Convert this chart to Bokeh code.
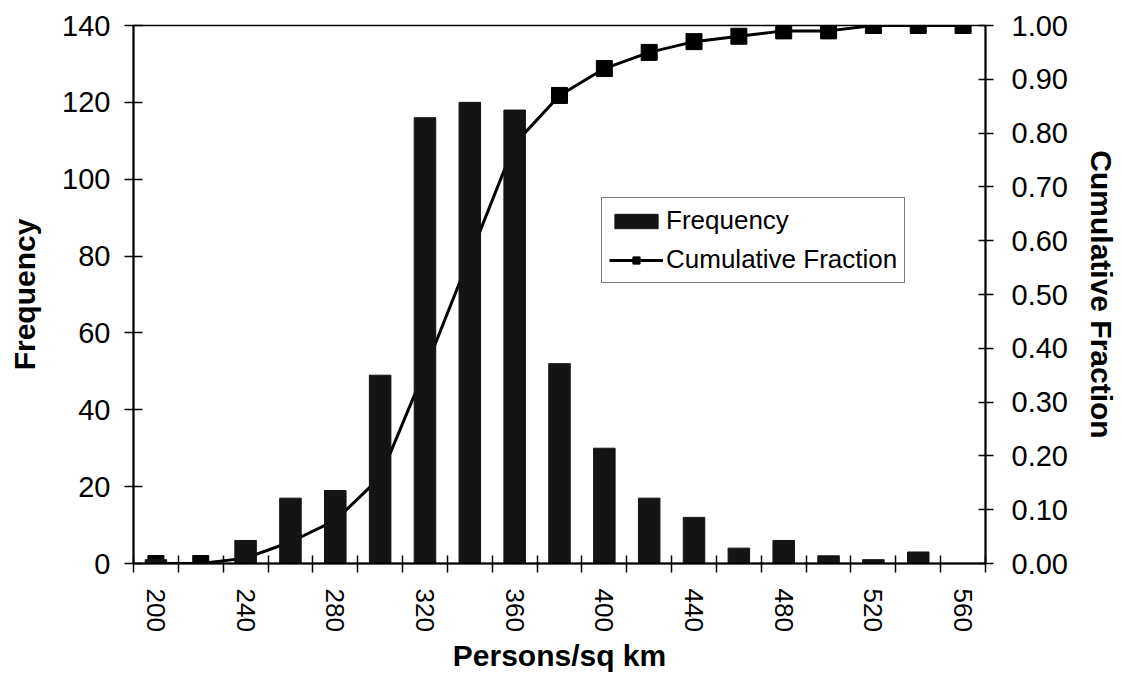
import math
from bokeh.plotting import figure
from bokeh.models import (Range1d, LinearAxis, FixedTicker, NumeralTickFormatter,
                          Legend, LegendItem, ColumnDataSource)
from bokeh.embed import file_html
from bokeh.resources import INLINE

# ---- data ----
categories = [200, 220, 240, 260, 280, 300, 320, 340, 360, 380,
              400, 420, 440, 460, 480, 500, 520, 540, 560]
frequency = [1, 0, 6, 17, 19, 49, 116, 120, 118, 52,
             30, 17, 12, 4, 6, 2, 1, 3, 0]
cumulative = [0.00, 0.00, 0.01, 0.04, 0.08, 0.16, 0.36, 0.57, 0.78, 0.87,
              0.92, 0.95, 0.97, 0.98, 0.99, 0.99, 1.00, 1.00, 1.00]
x_tick_labels = [200, 240, 280, 320, 360, 400, 440, 480, 520, 560]
freq_ticks = [0, 20, 40, 60, 80, 100, 120, 140]
cum_ticks = [0.0, 0.1, 0.2, 0.3, 0.4, 0.5, 0.6, 0.7, 0.8, 0.9, 1.0]

FONT = "Liberation Sans"
step = categories[1] - categories[0]
boundaries = [c - step / 2 for c in categories] + [categories[-1] + step / 2]

src = ColumnDataSource(dict(x=categories, freq=frequency, cum=cumulative))

p = figure(width=1120, height=675, output_backend="svg", toolbar_location=None,
           x_range=Range1d(boundaries[0], boundaries[-1]),
           y_range=Range1d(0, 140),
           min_border_left=133, min_border_right=133,
           min_border_top=25, min_border_bottom=112)
p.extra_y_ranges = {"cum": Range1d(0, 1)}
p.xgrid.visible = False
p.ygrid.visible = False
p.outline_line_color = "black"
p.outline_line_width = 1.5
p.background_fill_color = "white"
p.border_fill_color = "white"

# line + markers first (drawn behind the bars, as in the reference)
ln = p.line("x", "cum", source=src, y_range_name="cum", line_color="black", line_width=3)
mk = p.scatter("x", "cum", source=src, y_range_name="cum", marker="square", size=16,
               fill_color="black", line_color="black")
bars = p.vbar(x="x", top="freq", width=step * 0.48, source=src,
              fill_color="#141414", line_color="#141414")

# x axis
xa = p.xaxis[0]
xa.ticker = FixedTicker(ticks=x_tick_labels, minor_ticks=boundaries)
xa.major_tick_in = 0
xa.major_tick_out = 0
xa.minor_tick_in = 8
xa.minor_tick_out = 9
xa.minor_tick_line_color = "black"
xa.minor_tick_line_width = 1.5
xa.major_label_orientation = -math.pi / 2
xa.major_label_text_font = FONT
xa.major_label_text_font_size = "26px"
xa.major_label_text_color = "black"
xa.major_label_standoff = 16
xa.axis_line_width = 2
xa.axis_label = "Persons/sq km"
xa.axis_label_text_font = FONT
xa.axis_label_text_font_style = "bold"
xa.axis_label_text_font_size = "30px"
xa.axis_label_text_color = "black"
xa.axis_label_standoff = 4

# left axis
ya = p.yaxis[0]
ya.ticker = FixedTicker(ticks=freq_ticks, minor_ticks=[])
ya.major_tick_in = 9
ya.major_tick_out = 9
ya.major_tick_line_width = 1.5
ya.minor_tick_line_color = None
ya.axis_line_width = 2
ya.major_label_text_font = FONT
ya.major_label_text_font_size = "29px"
ya.major_label_text_color = "black"
ya.major_label_standoff = 14
ya.axis_label = "Frequency"
ya.axis_label_text_font = FONT
ya.axis_label_text_font_style = "bold"
ya.axis_label_text_font_size = "30px"
ya.axis_label_text_color = "black"
ya.axis_label_standoff = 18

# right axis
ra = LinearAxis(y_range_name="cum",
                ticker=FixedTicker(ticks=cum_ticks, minor_ticks=[]),
                formatter=NumeralTickFormatter(format="0.00"))
ra.major_tick_in = 7
ra.major_tick_out = 8
ra.major_tick_line_width = 1.5
ra.minor_tick_line_color = None
ra.axis_line_width = 2
ra.major_label_text_font = FONT
ra.major_label_text_font_size = "29px"
ra.major_label_text_color = "black"
ra.major_label_standoff = 18
ra.axis_label = "Cumulative Fraction"
ra.axis_label_text_font = FONT
ra.axis_label_text_font_style = "bold"
ra.axis_label_text_font_size = "30px"
ra.axis_label_text_color = "black"
ra.axis_label_standoff = 14
p.add_layout(ra, "right")

legend = Legend(items=[LegendItem(label="Frequency", renderers=[bars]),
                       LegendItem(label="Cumulative Fraction", renderers=[ln, mk])],
                location=(468, 280))
legend.label_text_font = FONT
legend.label_text_font_size = "26px"
legend.label_text_color = "black"
legend.label_standoff = 3
legend.glyph_width = 54
legend.glyph_height = 18
legend.label_height = 30
legend.spacing = 8
legend.padding = 7
legend.margin = 0
legend.border_line_color = "black"
legend.border_line_width = 1.2
legend.background_fill_alpha = 1
p.add_layout(legend, "center")

open("out.html", "w").write(file_html(p, INLINE))
